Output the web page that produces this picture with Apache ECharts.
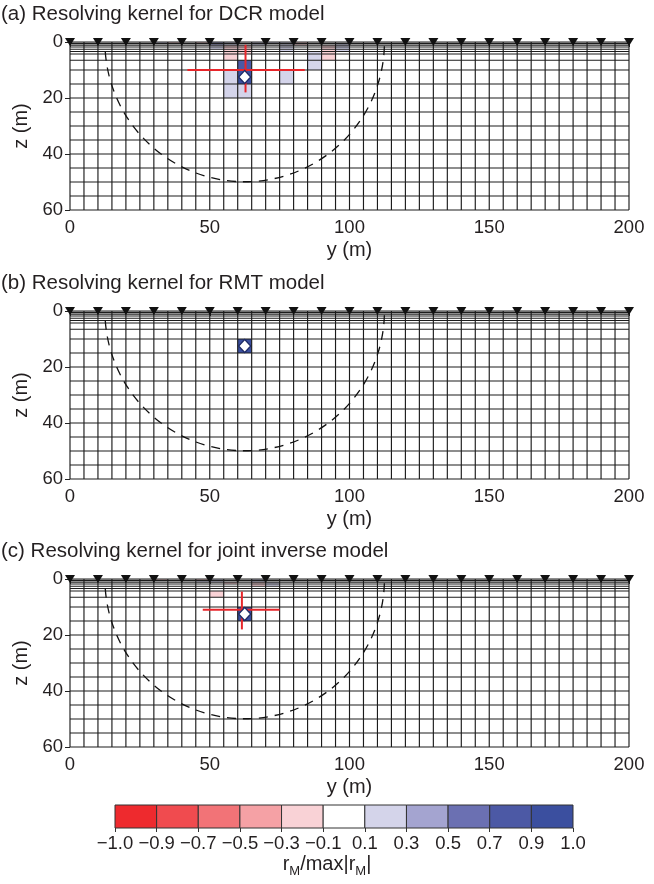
<!DOCTYPE html>
<html><head><meta charset="utf-8">
<script src="https://cdn.jsdelivr.net/npm/echarts@6/dist/echarts.min.js"></script>
<style>html,body{margin:0;padding:0;background:#fff}#c{width:654px;height:884px}</style>
</head><body><div id="c"></div>
<script>
// ---------------- data ----------------
const panelTitles = ['(a) Resolving kernel for DCR model', '(b) Resolving kernel for RMT model', '(c) Resolving kernel for joint inverse model'];
const xNodes = [0,5,10,15,20,25,30,35,40,45,50,55,60,65,70,75,80,85,90,95,100,105,110,115,120,125,130,135,140,145,150,155,160,165,170,175,180,185,190,195,200];
const zNodes = [0,0.5,1.1,1.8,2.6,3.4,4.3,6.5,10,15,20,25,30,35,40,45,50,55,60];
const stations = [0,10,20,30,40,50,60,70,80,90,100,110,120,130,140,150,160,170,180,190,200];
const binEdges = [-1.0,-0.9,-0.7,-0.5,-0.3,-0.1,0.1,0.3,0.5,0.7,0.9,1.0];
const binLabels = ['\u22121.0','\u22120.9','\u22120.7','\u22120.5','\u22120.3','\u22120.1','0.1','0.3','0.5','0.7','0.9','1.0'];
const binColors = ['#ee2a2e','#f04b4f','#f27377','#f5a1a5','#f9d2d6','#ffffff','#d4d4ea','#a4a4d0','#6b70b2','#4c59a5','#3b4f9f'];
// cells: [y of left node, z of top node, normalized value]
const cellsA = [
  [30,0,0.2],[35,0,-0.2],[45,0,-0.2],
  [50,0,0.4],[50,0.5,0.4],[50,1.1,0.2],[50,1.8,0.2],
  [55,0,0.2],[55,0.5,0.2],
  [55,1.1,-0.2],[55,1.8,-0.2],[55,2.6,-0.2],[55,3.4,-0.2],[55,4.3,-0.2],
  [60,1.1,-0.2],[60,1.8,-0.2],[60,2.6,-0.2],[60,3.4,-0.2],
  [60,6.5,0.8],[60,10,1.0],[60,15,0.2],[55,10,0.2],[55,15,0.2],
  [65,0,0.2],[65,0.5,0.2],[70,0,0.2],
  [75,0,0.2],[75,0.5,0.2],[75,1.1,0.2],[75,1.8,0.2],[75,2.6,0.2],[75,10,0.2],
  [80,0,-0.2],[80,0.5,-0.2],
  [85,3.4,0.2],[85,4.3,0.2],[85,6.5,0.2],
  [90,1.1,-0.2],[90,1.8,-0.2],[90,2.6,-0.2],[90,3.4,-0.2],[90,4.3,-0.2],
  [95,0.5,0.2],[95,1.1,0.2],[95,1.8,0.2],[95,2.6,0.2]
];
const cellsB = [[60,10,1.0]];
const cellsC = [
  [30,0,-0.2],[45,0,-0.2],[45,0.5,0.2],[50,0.5,0.2],[50,0,0.2],
  [50,4.3,-0.2],[55,1.1,-0.2],
  [65,0,0.2],[65,0.5,0.2],[65,1.1,-0.2],[65,1.8,-0.2],
  [70,1.1,0.2],[70,1.8,0.2],
  [60,10,1.0]
];
const targets = [[62.5,12.5]];
// red cross segments: [y1, z1, y2, z2]
const crossA = [[42,10,84,10],[62.8,1,62.8,18]];
const crossC = [[47.5,11,75,11],[61.5,4.5,61.5,18]];
const crossB = [];
// dashed circle: [centre y, centre z, radius]
const circle = [[62.5,0,50]];

// ---------------- chart ----------------
const FONT = 'Liberation Sans, Arial, Helvetica, sans-serif';
const TXT = '#231f20';
const tops = [42, 311, 579];
const L = 70, W = 559, H = 168;
const MESH = '#1c1c1c';

function nextNode(arr, v){ for (let i=0;i<arr.length-1;i++){ if (Math.abs(arr[i]-v)<1e-6) return arr[i+1]; } return v; }
function binColor(v){ for (let i=0;i<binColors.length;i++){ if (v<=binEdges[i+1]+1e-9) return binColors[i]; } return binColors[binColors.length-1]; }

const grid = [], xAxis = [], yAxis = [], series = [], title = [];
const cellSets = [cellsA, cellsB, cellsC];
const crossSets = [crossA, crossB, crossC];

tops.forEach((top, p) => {
  grid.push({left: L, top: top, width: W, height: H});
  title.push({text: panelTitles[p], left: 1, top: top - 38, padding: 0,
    textStyle: {fontSize: 20.5, fontWeight: 'normal', fontFamily: FONT, color: TXT}});
  xAxis.push({gridIndex: p, type: 'value', min: 0, max: 200, interval: 50, position: 'bottom',
    name: 'y (m)', nameLocation: 'middle', nameGap: 30,
    nameTextStyle: {fontSize: 20, fontFamily: FONT, color: TXT},
    axisLine: {show: false}, axisTick: {show: true, length: 5, lineStyle: {color: '#222'}},
    axisLabel: {fontSize: 18.5, fontFamily: FONT, color: TXT, margin: 8},
    splitLine: {show: false}});
  xAxis.push({gridIndex: p, type: 'value', min: 0, max: 200, interval: 50, position: 'top',
    axisLine: {show: false}, axisTick: {show: true, length: 4, lineStyle: {color: '#222'}},
    axisLabel: {show: false}, splitLine: {show: false}});
  yAxis.push({gridIndex: p, type: 'value', min: 0, max: 60, interval: 20, inverse: true,
    name: 'z (m)', nameLocation: 'middle', nameGap: 38, nameRotate: 90,
    nameTextStyle: {fontSize: 20, fontFamily: FONT, color: TXT},
    axisLine: {show: false}, axisTick: {show: true, length: 5, lineStyle: {color: '#222'}},
    axisLabel: {fontSize: 18.5, fontFamily: FONT, color: TXT, margin: 7},
    splitLine: {show: false}});
  const xi = p*2, yi = p;
  // cells
  series.push({type: 'custom', xAxisIndex: xi, yAxisIndex: yi, encode: {x: 0, y: 1},
    data: cellSets[p], z: 1,
    renderItem: (params, api) => {
      const x0 = api.value(0), z0 = api.value(1), v = api.value(2);
      const a = api.coord([x0, z0]), b = api.coord([nextNode(xNodes, x0), nextNode(zNodes, z0)]);
      return {type: 'rect', shape: {x: a[0], y: a[1], width: b[0]-a[0], height: b[1]-a[1]},
        style: {fill: binColor(v)}};
    }});
  // vertical mesh lines
  series.push({type: 'custom', xAxisIndex: xi, yAxisIndex: yi, encode: {x: 0, y: 1},
    data: xNodes.map(x => [x, 0]), z: 2,
    renderItem: (params, api) => {
      const a = api.coord([api.value(0), zNodes[0]]), b = api.coord([api.value(0), zNodes[zNodes.length-1]]);
      return {type: 'line', shape: {x1: a[0], y1: a[1], x2: b[0], y2: b[1]}, style: {stroke: MESH, lineWidth: 1.15}};
    }});
  // horizontal mesh lines
  series.push({type: 'custom', xAxisIndex: xi, yAxisIndex: yi, encode: {x: 0, y: 1},
    data: zNodes.map(z => [0, z]), z: 2,
    renderItem: (params, api) => {
      const a = api.coord([xNodes[0], api.value(1)]), b = api.coord([xNodes[xNodes.length-1], api.value(1)]);
      return {type: 'line', shape: {x1: a[0], y1: a[1], x2: b[0], y2: b[1]}, style: {stroke: MESH, lineWidth: 1.15}};
    }});
  // dashed circle
  series.push({type: 'custom', xAxisIndex: xi, yAxisIndex: yi, encode: {x: 0, y: 1},
    data: circle, z: 3, clip: false,
    renderItem: (params, api) => {
      const c = api.coord([api.value(0), api.value(1)]);
      const r = api.size([api.value(2), 0])[0];
      return {type: 'arc', shape: {cx: c[0], cy: c[1], r: r, startAngle: 0.03, endAngle: Math.PI-0.03, clockwise: true},
        style: {stroke: '#111', fill: null, lineWidth: 1.3, lineDash: [9, 7]}};
    }});
  // red cross
  series.push({type: 'custom', xAxisIndex: xi, yAxisIndex: yi, encode: {x: [0,2], y: [1,3]},
    data: crossSets[p], z: 4,
    renderItem: (params, api) => {
      const a = api.coord([api.value(0), api.value(1)]), b = api.coord([api.value(2), api.value(3)]);
      return {type: 'line', shape: {x1: a[0], y1: a[1], x2: b[0], y2: b[1]}, style: {stroke: '#e8262b', lineWidth: 2}};
    }});
  // target diamond
  series.push({type: 'scatter', xAxisIndex: xi, yAxisIndex: yi, data: targets, z: 5,
    symbol: 'diamond', symbolSize: [12, 13], clip: false,
    itemStyle: {color: '#ffffff', borderColor: '#1d2a66', borderWidth: 1.3, opacity: 1}});
  // stations
  series.push({type: 'scatter', xAxisIndex: xi, yAxisIndex: yi, data: stations.map(s => [s, 0]), z: 6,
    symbol: 'triangle', symbolRotate: 180, symbolSize: [10, 8], clip: false,
    itemStyle: {color: '#111', opacity: 1}});
});

// colour bar
grid.push({left: 115, top: 805, width: 458, height: 23});
xAxis.push({gridIndex: 3, type: 'value', min: 0, max: 11, interval: 1, position: 'bottom',
  axisLine: {show: false}, axisTick: {show: true, length: 4, lineStyle: {color: '#333'}},
  axisLabel: {fontSize: 18.5, fontFamily: FONT, color: TXT, margin: 6, formatter: v => binLabels[v]},
  splitLine: {show: false}});
yAxis.push({gridIndex: 3, type: 'value', min: 0, max: 1, show: false});
series.push({type: 'custom', xAxisIndex: 6, yAxisIndex: 3, encode: {x: 0, y: 1},
  data: binColors.map((c, i) => [i, 0]), z: 1,
  renderItem: (params, api) => {
    const i = api.value(0);
    const a = api.coord([i, 1]), b = api.coord([i+1, 0]);
    return {type: 'rect', shape: {x: a[0], y: a[1], width: b[0]-a[0], height: b[1]-a[1]},
      style: {fill: binColors[i], stroke: '#333', lineWidth: 1}};
  }});

const chart = echarts.init(document.getElementById('c'), null, {renderer: 'canvas'});
chart.setOption({
  animation: false,
  backgroundColor: '#ffffff',
  title: title,
  grid: grid, xAxis: xAxis, yAxis: yAxis, series: series,
  graphic: [{type: 'text', left: 'center', top: 854, z: 10,
    style: {text: '{a|r}{s|M}{a|/max|r}{s|M}{a||}', fill: TXT,
      rich: {a: {fontSize: 20, fontFamily: FONT, fill: TXT, lineHeight: 28, verticalAlign: 'bottom'},
             s: {fontSize: 13, fontFamily: FONT, fill: TXT, lineHeight: 13, verticalAlign: 'bottom', padding: [0,0,-4,0]}}}}]
});
</script>
</body></html>
